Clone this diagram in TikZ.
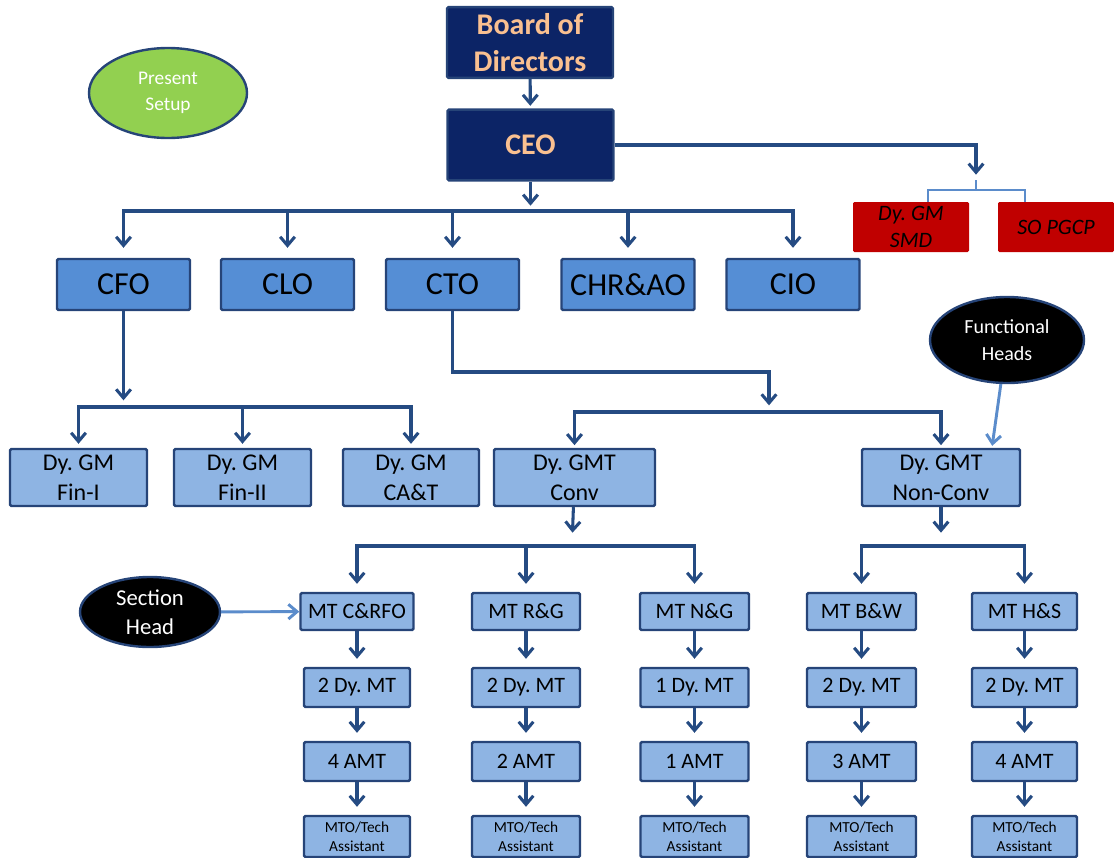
\documentclass[tikz,border=0pt]{standalone}
\usepackage{fontspec}
\setmainfont{Carlito}
\frenchspacing
\usetikzlibrary{arrows.meta, calc, shapes.geometric}
\definecolor{navy}{HTML}{0C2466}
\definecolor{peach}{HTML}{FAC090}
\definecolor{midblue}{HTML}{558ED5}
\definecolor{paleblue}{HTML}{8EB4E3}
\definecolor{edgeblue}{HTML}{264478}
\definecolor{linkblue}{HTML}{254B82}
\definecolor{lightlink}{HTML}{5B8CCB}
\definecolor{darkred}{HTML}{C00000}
\definecolor{leafgreen}{HTML}{92D050}
\tikzset{%
  box/.style={draw=edgeblue, line width=1.8pt, rounded corners=1pt, inner sep=0pt, align=center},
  topbox/.style={box, fill=navy, text=peach, font=\fontsize{22.5}{28}\selectfont\bfseries,
                 minimum width=124.5pt, minimum height=53pt},
  chiefbox/.style={box, fill=midblue, font=\fontsize{24}{28}\selectfont,
                   minimum width=99.75pt, minimum height=38.25pt},
  gmbox/.style={box, fill=paleblue, font=\fontsize{18}{22.5}\selectfont, minimum height=42.75pt},
  mtbox/.style={box, fill=paleblue, font=\fontsize{16.5}{18}\selectfont},
  mtobox/.style={box, fill=paleblue, font=\fontsize{11.5}{14}\selectfont, minimum height=30.75pt},
  redbox/.style={fill=darkred, rounded corners=1pt, align=center, inner sep=0pt,
                 font=\fontsize{16.5}{20}\selectfont\itshape, minimum width=87pt, minimum height=37.5pt},
  tag/.style={ellipse, draw=edgeblue, line width=1.8pt, align=center, text=white, inner sep=0pt},
  link/.style={draw=linkblue, line width=2.3pt, -{Straight Barb[length=6.5pt,width=11pt]}},
  softlink/.style={draw=lightlink, line width=2.2pt, -{Straight Barb[length=6.5pt,width=11pt]}},
  soft/.style={draw=lightlink, line width=2.2pt},
}

\begin{document}
\begin{tikzpicture}[x=0.75pt, y=-0.75pt]
\useasboundingbox (0,0) rectangle (1114,857);

% top of the tree
\node[topbox] (bod) at (530,42.5) {Board of\\Directors};
\node[topbox] (ceo) at (530.5,145) {CEO};
\node[tag, fill=leafgreen, font=\fontsize{14.5}{19}\selectfont, minimum width=118.5pt, minimum height=67.5pt] (present) at (168,93) {Present\\Setup};

% chiefs
\node[chiefbox] (cfo) at (123.5,284.5) {CFO};
\node[chiefbox] (clo) at (287.5,284.5) {CLO};
\node[chiefbox] (cto) at (452.5,284.5) {CTO};
\node[chiefbox] (chr) at (628,284.5) {CHR\&AO};
\node[chiefbox] (cio) at (793,284.5) {CIO};

% staff under CEO
\node[redbox] (smd) at (911,227) {Dy. GM\\SMD};
\node[redbox] (pgcp) at (1056,227) {SO PGCP};

% general managers
\node[gmbox, minimum width=102.75pt] (fin1) at (78.5,477.5) {Dy. GM\\Fin-I};
\node[gmbox, minimum width=102.75pt] (fin2) at (242.5,477.5) {Dy. GM\\Fin-II};
\node[gmbox, minimum width=102pt] (cat) at (411,477.5) {Dy. GM\\CA\&T};
\node[gmbox, minimum width=120.75pt] (conv) at (574.5,477.5) {Dy. GMT\\Conv};
\node[gmbox, minimum width=118.5pt] (nconv) at (941,477.5) {Dy. GMT\\Non-Conv};
\node[tag, fill=black, font=\fontsize{15}{20}\selectfont, minimum width=115.5pt, minimum height=64.5pt] (func) at (1007,340) {Functional\\Heads};

% sections
\node[mtbox, minimum width=84.75pt, minimum height=27.75pt] (mta) at (357,611.5) {MT C\&RFO};
\node[mtbox, minimum width=81pt, minimum height=27.75pt] (mtb) at (526,611.5) {MT R\&G};
\node[mtbox, minimum width=81.75pt, minimum height=27.75pt] (mtc) at (694.5,611.5) {MT N\&G};
\node[mtbox, minimum width=81.75pt, minimum height=27.75pt] (mtd) at (861.5,611.5) {MT B\&W};
\node[mtbox, minimum width=78.75pt, minimum height=27.75pt] (mte) at (1024.5,611.5) {MT H\&S};
\node[tag, fill=black, font=\fontsize{17}{22}\selectfont, minimum width=105pt, minimum height=52.5pt] (sect) at (150,612) {Section\\Head};

% staff of each section
\foreach \c/\x/\w/\dy/\am in {a/357/79.5/2/4, b/526/81/2/2, c/694.5/81/1/1, d/861.5/81.75/2/3, e/1024.5/78.75/2/4}{
  \node[mtbox, minimum width=\w pt, minimum height=29.25pt] (dy\c) at (\x,687.5) {\dy\ Dy. MT};
  \node[mtbox, minimum width=\w pt, minimum height=29.25pt] (am\c) at (\x,761.5) {\am\ AMT};
  \node[mtobox, minimum width=\w pt] (mto\c) at (\x,836.5) {MTO/Tech\\Assistant};
  \draw[link, shorten >=6pt] (mt\c) -- (dy\c);
  \draw[link, shorten >=6pt] (dy\c) -- (am\c);
  \draw[link, shorten >=6pt] (am\c) -- (mto\c);
}

% Board to CEO
\draw[link, shorten >=2pt] (bod) -- (ceo);

% CEO to chiefs
\coordinate (ceobus) at (530.5,211);
\draw[link, shorten >=4pt] (ceo) -- (ceobus);
\foreach \n in {cfo,clo,cto,chr,cio}
  \draw[link, shorten >=7.5pt] (ceobus) -| (\n);

% CEO to staff
\coordinate (staffhub) at (976,180);
\draw[link, shorten >=4pt] (ceo) -| (staffhub);
\draw[soft] (staffhub) -- ++(0,10) coordinate (staffbus) -| ($(smd.north)+(17,0)$);
\draw[soft] (staffbus) -| ($(pgcp.north)+(-31,0)$);

% CFO to finance
\coordinate (cfobus) at (123.5,407);
\draw[link, shorten >=5pt] (cfo) -- (cfobus);
\foreach \n in {fin1,fin2,cat}
  \draw[link, shorten >=3pt] (cfobus) -| (\n);

% CTO to GMTs
\coordinate (ctobend) at (769,372);
\coordinate (ctobus) at (769,412);
\draw[link, shorten >=5pt] (cto) |- (ctobend) -- (ctobus);
\foreach \n in {conv,nconv}
  \draw[link, shorten >=2pt] (ctobus) -| (\n);

% GMTs to sections
\coordinate (convbus) at (572,546);
\draw[link, shorten >=10pt] (conv) -- (convbus);
\foreach \n in {mta,mtb,mtc}
  \draw[link, shorten >=6pt] (convbus) -| (\n);
\coordinate (nconvbus) at (941,546);
\draw[link, shorten >=10pt] (nconv) -- (nconvbus);
\foreach \n in {mtd,mte}
  \draw[link, shorten >=6pt] (nconvbus) -| (\n);

% heads
\draw[softlink] (func) -- ($(nconv.north east)+(-29,-2)$);
\draw[softlink] (sect) -- (mta);

\end{tikzpicture}
\end{document}
